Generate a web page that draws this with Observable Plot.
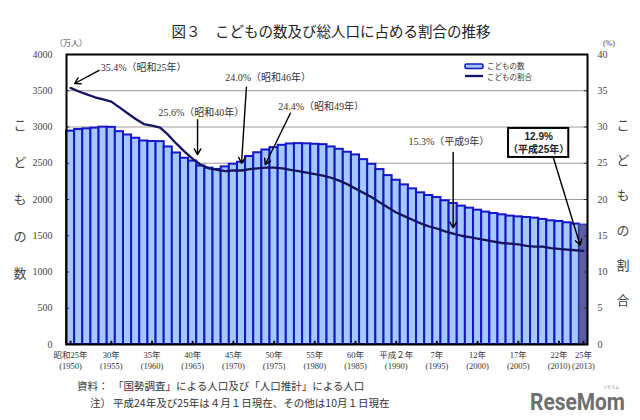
<!DOCTYPE html>
<html><head><meta charset="utf-8">
<script src="https://cdn.jsdelivr.net/npm/d3@7"></script>
<script src="https://cdn.jsdelivr.net/npm/@observablehq/plot@0.6"></script>
<style>body{margin:0;background:#fff}</style>
</head><body><div id="chart"></div>
<script>
// ---- data ----
const years = [1950,1951,1952,1953,1954,1955,1956,1957,1958,1959,
  1960,1961,1962,1963,1964,1965,1966,1967,1968,1969,
  1970,1971,1972,1973,1974,1975,1976,1977,1978,1979,
  1980,1981,1982,1983,1984,1985,1986,1987,1988,1989,
  1990,1991,1992,1993,1994,1995,1996,1997,1998,1999,
  2000,2001,2002,2003,2004,2005,2006,2007,2008,2009,
  2010,2011,2012,2013];
// こどもの数 (万人)
const counts = [2943,2965,2975,2985,2998,2995,2936,2890,2845,2807,
  2800,2798,2725,2642,2569,2530,2462,2432,2415,2450,
  2487,2514,2593,2645,2683,2716,2748,2766,2771,2768,
  2762,2757,2725,2693,2652,2615,2550,2486,2413,2330,
  2266,2202,2147,2092,2055,2027,1982,1945,1908,1881,
  1853,1826,1807,1789,1771,1761,1752,1743,1725,1706,
  1697,1679,1661,1651];
// こどもの割合 (%)
const ratios = [35.4,34.9,34.5,34.1,33.8,33.5,32.7,31.9,31.1,30.4,
  30.2,29.9,28.9,27.7,26.6,25.6,24.8,24.3,24.1,23.9,
  24.0,24.0,24.2,24.3,24.4,24.4,24.3,24.1,23.9,23.7,
  23.5,23.3,23.0,22.6,22.1,21.5,20.9,20.3,19.6,18.9,
  18.2,17.7,17.2,16.7,16.3,16.0,15.6,15.3,15.0,14.8,
  14.6,14.4,14.2,14.0,13.9,13.8,13.6,13.5,13.5,13.3,
  13.2,13.1,13.0,12.9];
const labelYears = [1950,1955,1960,1965,1970,1975,1980,1985,1990,1995,2000,2005,2010,2013];
const labelEra = ["昭和25年","30年","35年","40年","45年","50年","55年","60年","平成２年","7年","12年","17年","22年","25年"];
const yTicks = [0,500,1000,1500,2000,2500,3000,3500,4000];
const gridTicks = [500,1000,1500,2000,2500,3000,3500];
const rightTickLabels = [0,5,10,15,20,25,30,35,40];

// annotations (position in chart data units: year, 万人 scale)
const notes = [
  {text:"35.4%（昭和25年）", x:1953.7, y:3810, ax1:1953.5, ay1:3780, ax2:1950.5, ay2:3600},
  {text:"25.6%（昭和40年）", x:1960.8, y:3190, ax1:1965.6, ay1:3100, ax2:1965.6, ay2:2620},
  {text:"24.0%（昭和46年）", x:1969.0, y:3685, ax1:1971.6, ay1:3550, ax2:1971.0, ay2:2500},
  {text:"24.4%（昭和49年）", x:1975.5, y:3285, ax1:1977.0, ay1:3190, ax2:1973.9, ay2:2480},
  {text:"15.3%（平成9年）",  x:1991.5, y:2790, ax1:1997.0, ay1:2650, ax2:1997.0, ay2:1610}
];
const boxNote = {l1:"12.9%", l2:"（平成25年）", x1:2003.8, x2:2011.2, y1:2580, y2:2980, ax1:2009.3, ay1:2580, ax2:2012.6, ay2:1370};

// ---- build ----
const data = years.map((y,i)=>({year:y, count:counts[i], ratio:ratios[i]}));
const xLabels = labelYears.map((y,i)=>({year:y, label:labelEra[i]+"\n("+y+")"}));
const serif = "'Liberation Serif','Noto Sans CJK JP',serif";
const W=640,H=420,mL=66,mR=53,mT=54,mB=76;
const xDom=[1949.5,2013.5];

const chart = Plot.plot({
  width:W, height:H, marginLeft:mL, marginRight:mR, marginTop:mT, marginBottom:mB,
  x:{domain:xDom, axis:null},
  y:{domain:[0,4000], axis:null},
  style:{fontFamily:serif, background:"white", color:"#333"},
  marks:[
    Plot.ruleY(gridTicks, {stroke:"#9a9a9a", strokeWidth:1}),
    Plot.rectY(data.filter(d=>d.year<2013), {x1:d=>d.year-0.5, x2:d=>d.year+0.5, y:"count", fill:"#a2c9f7", stroke:"#1616c8", strokeWidth:2}),
    Plot.rectY(data.filter(d=>d.year===2013), {x1:d=>d.year-0.5, x2:d=>d.year+0.5, y:"count", fill:"#5e5e9e", stroke:"#3a3aa8", strokeWidth:1.5}),
    Plot.line(data, {x:"year", y:d=>d.ratio*100, stroke:"#15155f", strokeWidth:2.3}),
    Plot.ruleX(labelYears, {x:d=>d, y1:0, y2:45, stroke:"#111", strokeWidth:2}),
    Plot.ruleY(gridTicks, {y:d=>d, x1:xDom[0], x2:xDom[0]+0.4, stroke:"#333", strokeWidth:1}),
    Plot.ruleY(gridTicks, {y:d=>d, x1:xDom[1]-0.4, x2:xDom[1], stroke:"#333", strokeWidth:1}),
    Plot.frame({stroke:"#000", strokeWidth:2}),
    Plot.axisY({anchor:"left", ticks:yTicks, tickFormat:d=>String(d), tickSize:0, tickPadding:14, fontSize:10, fill:"#444"}),
    Plot.axisY({anchor:"right", ticks:yTicks, tickFormat:(d,i)=>String(rightTickLabels[i]), tickSize:0, tickPadding:10, fontSize:10, fill:"#444"}),
    Plot.text(xLabels, {x:"year", text:"label", frameAnchor:"bottom", lineAnchor:"top", dy:6, fontSize:8.5, lineHeight:1.3, fill:"#333"}),
    Plot.arrow(notes, {x1:"ax1", y1:"ay1", x2:"ax2", y2:"ay2", stroke:"#000", strokeWidth:1.4, headLength:7}),
    Plot.text(notes, {x:"x", y:"y", text:"text", textAnchor:"start", fontSize:10, fill:"#333"}),
    Plot.arrow([boxNote], {x1:"ax1", y1:"ay1", x2:"ax2", y2:"ay2", stroke:"#000", strokeWidth:1.4, headLength:7}),
    Plot.rect([boxNote], {x1:"x1", x2:"x2", y1:"y1", y2:"y2", fill:"white", stroke:"#000", strokeWidth:2}),
    Plot.text([boxNote], {x:d=>(d.x1+d.x2)/2, y:d=>d.y2-120, text:"l1", fontSize:10, fontWeight:"bold", fontFamily:"'Liberation Sans','Noto Sans CJK JP',sans-serif", fill:"#222"}),
    Plot.text([boxNote], {x:d=>(d.x1+d.x2)/2, y:d=>d.y1+110, text:"l2", fontSize:10, fontWeight:"bold", fontFamily:"'Liberation Sans','Noto Sans CJK JP',sans-serif", fill:"#222"})
  ]
});
document.getElementById("chart").appendChild(chart);

// ---- extra text (title, units, legend, notes) ----
const svg = d3.select(chart);
const cjk = "'Noto Sans CJK JP',sans-serif";
const add = (x,y,t,o={})=>svg.append("text").attr("x",x).attr("y",y)
  .attr("text-anchor",o.anchor||"start").attr("font-family",o.font||cjk)
  .attr("font-size",o.size||10).attr("font-weight",o.weight||"normal")
  .attr("fill",o.fill||"#333").text(t);
add(331,37,"図３　こどもの数及び総人口に占める割合の推移",{anchor:"middle",size:14.5,fill:"#222"});
add(71,46,"（万人）",{anchor:"middle",size:8,fill:"#444"});
add(609,46,"(%)",{anchor:"middle",size:8,fill:"#444",font:serif});
"こどもの数".split("").forEach((c,i)=>add(20,130+i*37,c,{anchor:"middle",size:13,fill:"#444"}));
"こどもの割合".split("").forEach((c,i)=>add(623,130+i*35,c,{anchor:"middle",size:13,fill:"#444"}));
// legend
svg.append("rect").attr("x",465).attr("y",64).attr("width",18).attr("height",4.5).attr("rx",1.5)
  .attr("fill","#a2c9f7").attr("stroke","#1616c8").attr("stroke-width",1.6);
svg.append("line").attr("x1",465).attr("x2",483).attr("y1",76).attr("y2",76).attr("stroke","#15155f").attr("stroke-width",2.3);
add(487,69,"こどもの数",{size:7.5});
add(487,79.5,"こどもの割合",{size:7.5});
// notes
add(77,390,"資料：",{size:10.5});
add(113,390,"「国勢調査」による人口及び「人口推計」による人口",{size:10.5});
add(90,407,"注）",{size:10.5});
add(113,407,"平成24年及び25年は４月１日現在、その他は10月１日現在",{size:10.5});
add(530,410,"ReseMom",{size:23,weight:"bold",fill:"#6e6e6e",font:"'Liberation Sans Narrow','Roboto',sans-serif"})
  .attr("textLength",95).attr("lengthAdjust","spacingAndGlyphs");
add(611,389,"リセマム",{anchor:"middle",size:4,fill:"#888"});
</script>
</body></html>
